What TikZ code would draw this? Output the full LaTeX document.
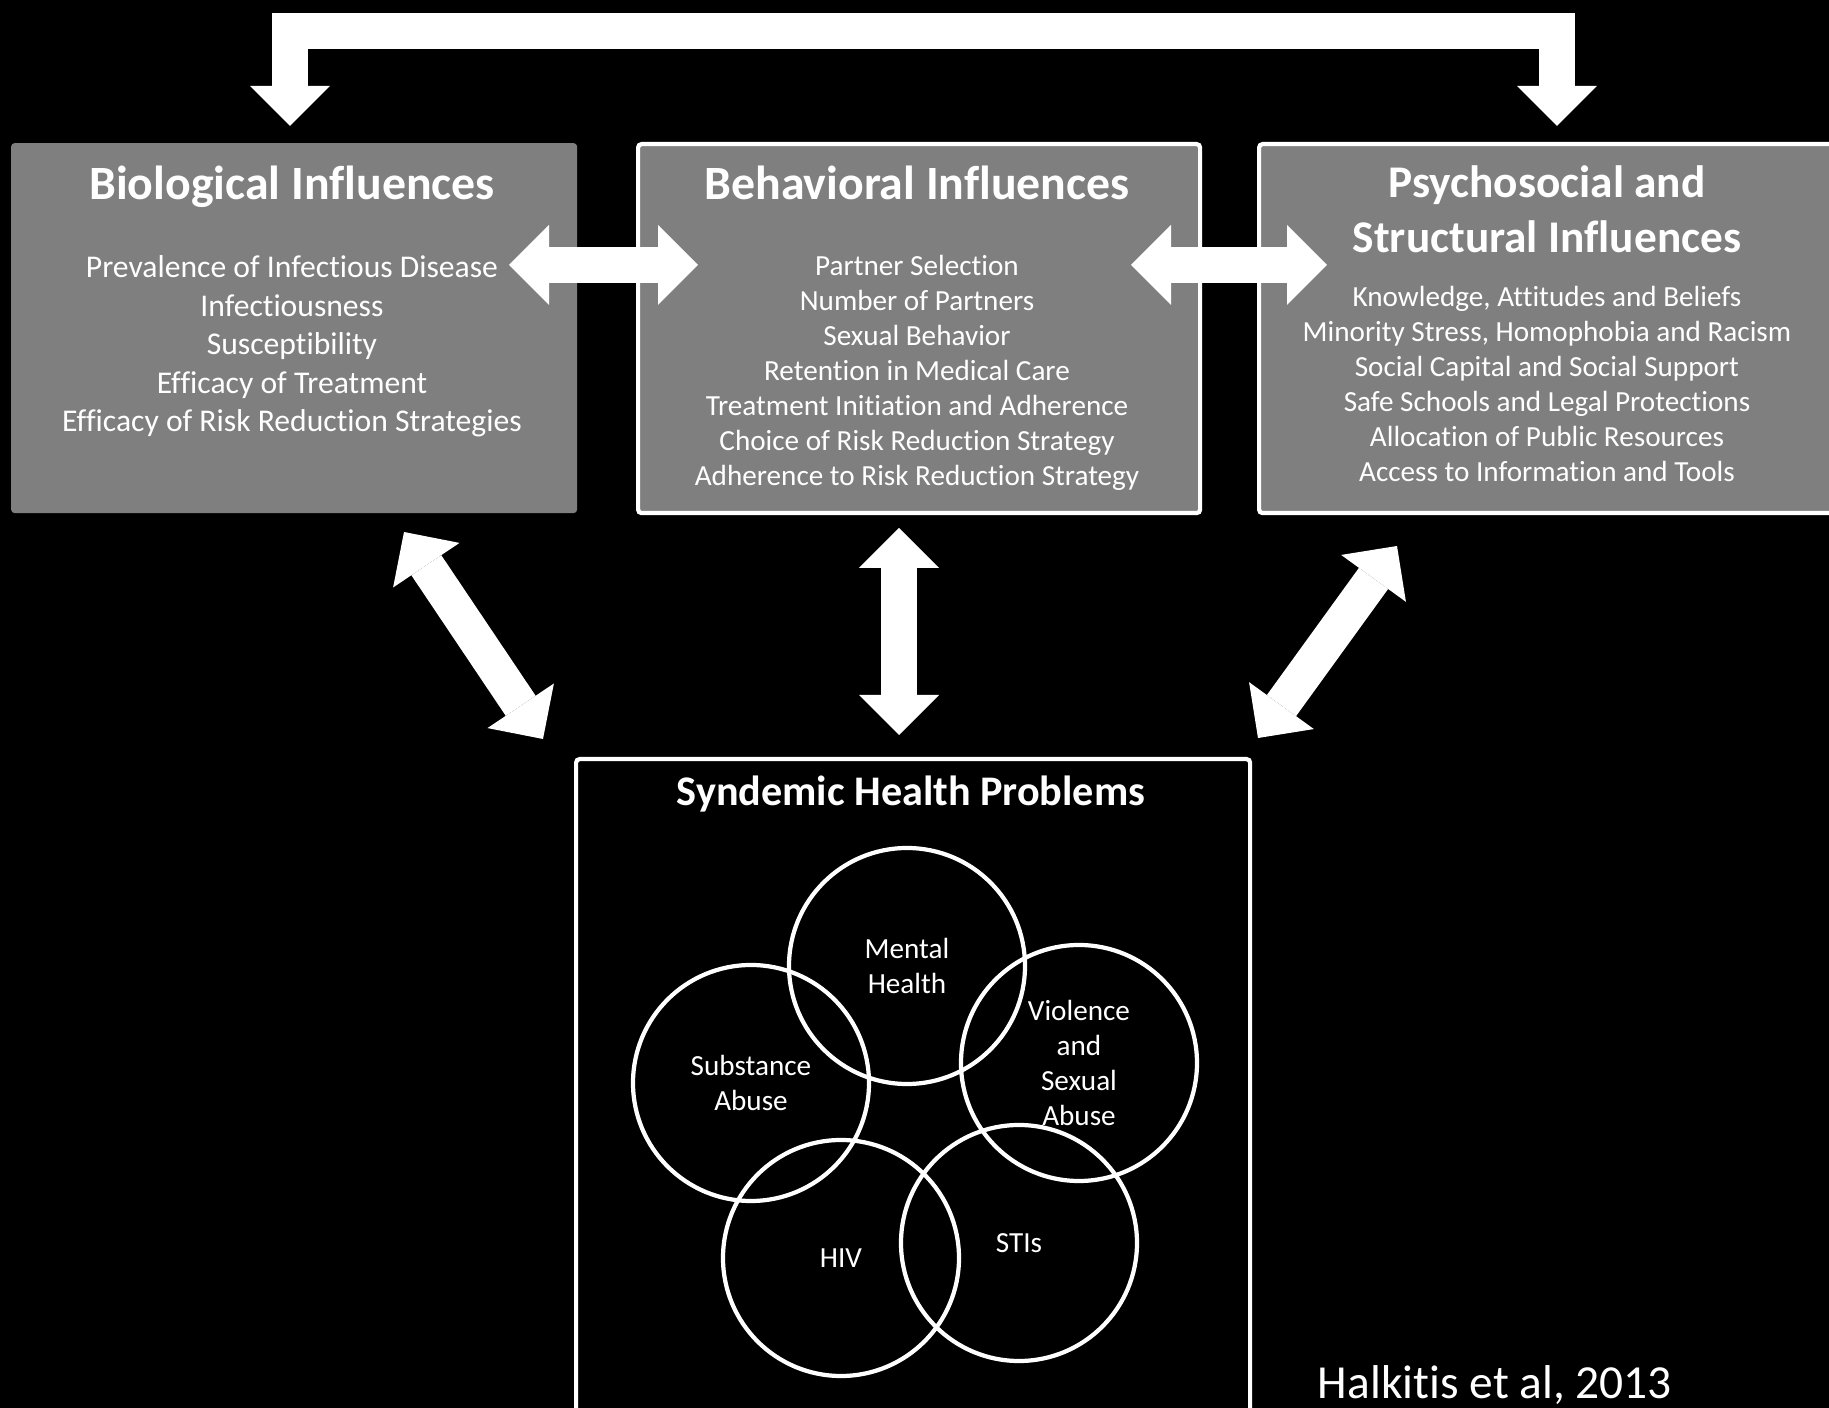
\documentclass[tikz,border=0pt]{standalone}
\usepackage{fontspec}
\setmainfont[Ligatures=NoCommon]{Carlito}
\usepackage{tikz}
\usetikzlibrary{arrows.meta,positioning,calc}
\definecolor{boxgray}{RGB}{127,127,127}

\begin{document}
\begin{tikzpicture}[
  every node/.style={text=white, align=center, inner sep=0pt},
  panel/.style={fill=boxgray, draw=white, line width=1.2pt, rounded corners=1pt, anchor=north west},
  headline/.style={font=\bfseries\fontsize{13.6pt}{0.55cm}\selectfont},
  itemlist/.style={font=\fontsize{8.3pt}{0.35cm}\selectfont},
  blockarrow/.style={white, line width=3.6mm, line join=miter,
    {Triangle[length=4mm,width=8mm,line width=0pt]}-{Triangle[length=4mm,width=8mm,line width=0pt]}},
  ring/.style={circle, draw=white, line width=1.2pt, minimum size=2.36cm, font=\fontsize{8.3pt}{0.35cm}\selectfont},
]
  \fill[black] (0,0) rectangle (18.29,14.08);
  \useasboundingbox (0,0) rectangle (18.29,14.08);

  % the three influence panels
  \node[panel, draw=none, minimum width=5.66cm, minimum height=3.70cm] (bio) at (0.09,12.67) {};
  \node[panel, minimum width=5.62cm, minimum height=3.69cm] (beh) at (6.36,12.66) {};
  \node[panel, minimum width=6.00cm, minimum height=3.69cm] (psy) at (12.57,12.66) {};
  \node[panel, fill=black, minimum width=6.74cm, minimum height=7.00cm] (synd) at (5.74,6.51) {};

  \node[headline] (bioT) at (2.92,12.215) {Biological Influences};
  \node[itemlist, font=\fontsize{9pt}{0.385cm}\selectfont] (bioL) at (2.92,10.615) {Prevalence of Infectious Disease\\Infectiousness\\Susceptibility\\Efficacy of Treatment\\Efficacy of Risk Reduction Strategies};
  \node[headline] (behT) at (9.17,12.25) {Behavioral Influences};
  \node[itemlist] (behL) at (9.17,10.35) {Partner Selection\\Number of Partners\\Sexual Behavior\\Retention in Medical Care\\Treatment Initiation and Adherence\\Choice of Risk Reduction Strategy\\Adherence to Risk Reduction Strategy};
  \node[headline, font=\bfseries\fontsize{12.9pt}{0.55cm}\selectfont] (psyT) at (15.47,11.985) {Psychosocial and\\Structural Influences};
  \node[itemlist] (psyL) at (15.47,10.24) {Knowledge, Attitudes and Beliefs\\Minority Stress, Homophobia and Racism\\Social Capital and Social Support\\Safe Schools and Legal Protections\\Allocation of Public Resources\\Access to Information and Tools};
  \node[headline, font=\bfseries\fontsize{12pt}{14pt}\selectfont] (syndT) at (9.11,6.14) {Syndemic Health Problems};

  % overlapping problems
  \node[ring] (mental) at (9.07,4.42) {Mental\\Health};
  \node[ring] (subst) at (7.51,3.25) {Substance\\Abuse};
  \node[ring] (viol) at (10.79,3.45) {Violence\\and\\Sexual\\Abuse};
  \node[ring] (hiv) at (8.41,1.50) {HIV};
  \node[ring] (sti) at (10.19,1.65) {STIs};

  \node[font=\fontsize{13.5pt}{16pt}\selectfont] (cite) at (14.95,0.23) {Halkitis et al, 2013};

  % arrow ends
  \coordinate (bioIn) at (2.90,12.82);
  \coordinate (psyIn) at (15.57,12.82);
  \coordinate (topL) at (2.90,13.77);
  \coordinate (topR) at (15.57,13.77);
  \coordinate (bioE) at (5.09,11.43);
  \coordinate (behW) at (6.98,11.43);
  \coordinate (behE) at (11.31,11.43);
  \coordinate (psyW) at (13.27,11.43);
  \coordinate (bioS) at (4.04,8.76);
  \coordinate (behS) at (8.99,8.80);
  \coordinate (psyS) at (13.97,8.62);
  \coordinate (syndL) at (5.43,6.69);
  \coordinate (syndM) at (8.99,6.73);
  \coordinate (syndR) at (12.58,6.70);

  \draw[blockarrow] (bioIn) -- (topL) -- (topR) -- (psyIn);
  \draw[blockarrow] (bioE) -- (behW);
  \draw[blockarrow] (behE) -- (psyW);
  \draw[blockarrow] (bioS) -- (syndL);
  \draw[blockarrow] (behS) -- (syndM);
  \draw[blockarrow] (psyS) -- (syndR);
\end{tikzpicture}
\end{document}
